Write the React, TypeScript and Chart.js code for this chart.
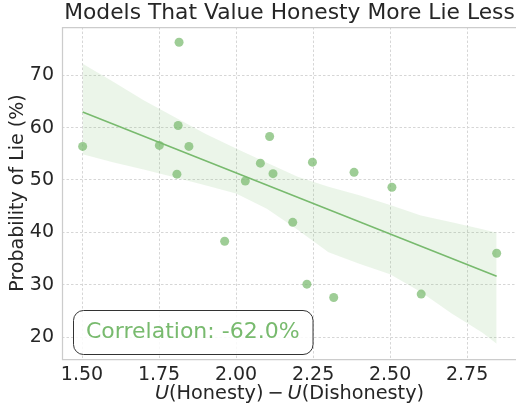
import React, { useEffect, useRef } from "react";
import { Chart, registerables } from "chart.js";

Chart.register(...registerables);

// ---- data ----
const scoreDiff = [1.502, 1.751, 1.815, 1.812, 1.847, 1.808, 2.109, 2.079, 2.12, 2.03, 1.963, 2.248, 2.383, 2.506, 2.184, 2.23, 2.317, 2.601, 2.846];
const lieProb = [56.4, 56.6, 76.3, 60.4, 56.4, 51.1, 58.3, 53.2, 51.2, 49.8, 38.3, 53.4, 51.45, 48.6, 41.9, 30.1, 27.55, 28.2, 36.0];

const fitX = [1.502, 2.846];
const fitY = [63.0, 31.6];

const bandX = [1.502, 1.6, 1.7, 1.8, 1.9, 2.0, 2.1, 2.2, 2.3, 2.4, 2.5, 2.6, 2.7, 2.8, 2.846];
const bandUpper = [72.2, 68.8, 65.2, 62.0, 58.8, 56.0, 53.3, 50.6, 48.7, 47.1, 45.2, 43.2, 41.9, 40.6, 39.9];
const bandLower = [54.9, 53.4, 52.0, 50.5, 49.0, 47.4, 44.5, 40.5, 36.2, 34.0, 32.0, 28.6, 24.5, 20.8, 18.7];

const xTicks = [1.5, 1.75, 2.0, 2.25, 2.5, 2.75];
const yTicks = [20, 30, 40, 50, 60, 70];
const xRange = [1.435, 2.912];
const yRange = [15.8, 79.2];

const titleText = "Models That Value Honesty More Lie Less";
const yLabel = "Probability of Lie (%)";
const xLabelParts = [
  { text: "U", italic: true, pad: 0 },
  { text: "(Honesty)", italic: false, pad: 0 },
  { text: "\u2212", italic: false, pad: 4 },
  { text: "U", italic: true, pad: 0 },
  { text: "(Dishonesty)", italic: false, pad: 0 },
];
const correlationText = "Correlation: -62.0%";

// ---- styles ----
const FONT = '"DejaVu Sans", sans-serif';
const TEXT = "#262626";
const GREEN = "rgb(120,186,110)";
const POINT = "rgba(120,186,110,0.72)";
const BAND = "rgba(120,186,110,0.15)";
const GRID = "#d6d6d6";
const SPINE = "#cccccc";
const VIEW_W = 516;
const CANVAS_W = 517;
const CANVAS_H = 404;

const overlayPlugin = {
  id: "overlay",
  afterDraw(chart: any) {
    const { ctx, chartArea: a } = chart;
    ctx.save();
    // spines: left, bottom, top (right one falls outside the view)
    ctx.strokeStyle = SPINE;
    ctx.lineWidth = 1.25;
    ctx.beginPath();
    ctx.moveTo(a.right, a.top + 0.5);
    ctx.lineTo(a.left + 0.5, a.top + 0.5);
    ctx.lineTo(a.left + 0.5, a.bottom + 0.5);
    ctx.lineTo(a.right, a.bottom + 0.5);
    ctx.stroke();

    // x axis label with italic U
    const size = 19.3;
    let total = 0;
    const widths = xLabelParts.map((p) => {
      ctx.font = `${p.italic ? "italic " : ""}${size}px ${FONT}`;
      const w = ctx.measureText(p.text).width + 2 * p.pad;
      total += w;
      return w;
    });
    let x = (a.left + a.right) / 2 - total / 2;
    ctx.fillStyle = TEXT;
    ctx.textBaseline = "alphabetic";
    ctx.textAlign = "left";
    xLabelParts.forEach((p, i) => {
      ctx.font = `${p.italic ? "italic " : ""}${size}px ${FONT}`;
      ctx.fillText(p.text, x + p.pad, 399);
      x += widths[i];
    });

    // correlation box
    ctx.font = `22px ${FONT}`;
    const tw = ctx.measureText(correlationText).width;
    const bx = a.left + 11;
    const bh = 44;
    const by = a.bottom - 5 - bh;
    const bw = tw + 26;
    ctx.beginPath();
    (ctx as any).roundRect(bx + 0.5, by + 0.5, bw, bh, 10);
    ctx.fillStyle = "rgba(255,255,255,0.85)";
    ctx.fill();
    ctx.strokeStyle = "#333333";
    ctx.lineWidth = 1;
    ctx.stroke();
    ctx.fillStyle = GREEN;
    ctx.fillText(correlationText, bx + 13, by + 28);
    ctx.restore();
  },
};

export default function App() {
  const ref = useRef<HTMLCanvasElement>(null);

  useEffect(() => {
    if (!ref.current) return;
    const points = scoreDiff.map((v, i) => ({ x: v, y: lieProb[i] }));
    const fit = fitX.map((v, i) => ({ x: v, y: fitY[i] }));
    const upper = bandX.map((v, i) => ({ x: v, y: bandUpper[i] }));
    const lower = bandX.map((v, i) => ({ x: v, y: bandLower[i] }));

    const chart = new Chart(ref.current, {
      type: "scatter",
      data: {
        datasets: [
          {
            data: points,
            backgroundColor: POINT,
            borderWidth: 0,
            borderColor: "rgba(0,0,0,0)",
            pointRadius: 4.5,
            order: 0,
          },
          {
            data: fit,
            showLine: true,
            borderColor: GREEN,
            borderWidth: 1.6,
            pointRadius: 0,
            fill: false,
            order: 1,
          },
          {
            data: upper,
            showLine: true,
            borderColor: "rgba(0,0,0,0)",
            borderWidth: 0,
            pointRadius: 0,
            backgroundColor: BAND,
            fill: "+1",
            tension: 0,
            order: 2,
          },
          {
            data: lower,
            showLine: true,
            borderColor: "rgba(0,0,0,0)",
            borderWidth: 0,
            pointRadius: 0,
            fill: false,
            order: 3,
          },
        ] as any,
      },
      options: {
        animation: false,
        responsive: false,
        events: [],
        layout: { padding: { left: 0, top: 0, bottom: 0, right: 0 }, autoPadding: false },
        plugins: {
          legend: { display: false },
          tooltip: { enabled: false },
          title: {
            display: true,
            fullSize: false,
            text: titleText,
            align: "center",
            color: TEXT,
            font: { size: 21.8, family: FONT, weight: "normal", lineHeight: 1.15 },
            padding: { top: 1, bottom: 1 },
          },
        },
        scales: {
          x: {
            type: "linear",
            min: xRange[0],
            max: xRange[1],
            afterBuildTicks: (s: any) => {
              s.ticks = xTicks.map((v) => ({ value: v }));
            },
            afterFit: (s: any) => {
              s.height = 45;
              s.paddingLeft = 0;
              s.paddingRight = 0;
            },
            ticks: {
              color: TEXT,
              font: { size: 19, family: FONT },
              padding: 5,
              maxRotation: 0,
              callback: (v: any) => Number(v).toFixed(2),
            },
            grid: {
              color: (c: any) => (c.tick && xTicks.includes(c.tick.value) ? GRID : "rgba(0,0,0,0)"),
              lineWidth: 1,
              drawTicks: false,
            },
            border: { display: false, dash: [2.5, 2] },
            title: { display: false },
          },
          y: {
            type: "linear",
            min: yRange[0],
            max: yRange[1],
            afterBuildTicks: (s: any) => {
              s.ticks = yTicks.map((v) => ({ value: v }));
            },
            afterFit: (s: any) => {
              s.width = 62;
              s.paddingTop = 0;
              s.paddingBottom = 0;
            },
            ticks: {
              color: TEXT,
              font: { size: 19, family: FONT },
              padding: 8,
              callback: (v: any) => String(v),
            },
            grid: { color: GRID, lineWidth: 1, drawTicks: false },
            border: { display: false, dash: [2.5, 2] },
            title: {
              display: true,
              text: yLabel,
              color: TEXT,
              font: { size: 19, family: FONT },
              padding: { top: 7, bottom: 0 },
            },
          },
        },
      } as any,
      plugins: [overlayPlugin],
    });
    return () => chart.destroy();
  }, []);

  return (
    <div
      style={{
        position: "absolute",
        left: 0,
        top: 0,
        width: VIEW_W,
        height: CANVAS_H,
        overflow: "hidden",
        background: "#fff",
      }}
    >
      <canvas ref={ref} width={CANVAS_W} height={CANVAS_H} style={{ display: "block" }} />
    </div>
  );
}
